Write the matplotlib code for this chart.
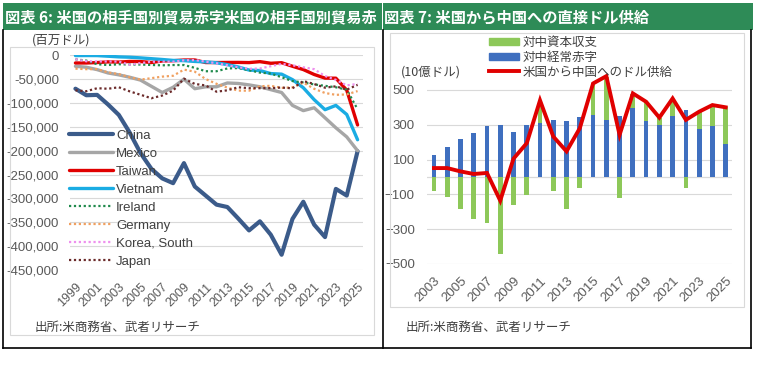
import numpy as np
import matplotlib
matplotlib.use("Agg")
import matplotlib.pyplot as plt
from matplotlib.patches import Rectangle, Patch
from matplotlib.lines import Line2D
from matplotlib.ticker import FuncFormatter

plt.rcParams['font.family'] = ['Liberation Sans', 'Noto Sans CJK JP']

# ---- left chart: US trade deficit by partner (million USD) ----
years = list(range(1999, 2026))
china = [-70000, -83700, -83000, -103000, -125000, -162000, -205000, -238000, -258000,
         -268000, -226000, -275000, -294000, -313000, -318000, -342000, -367000, -348000,
         -376000, -418000, -343000, -307000, -355000, -381000, -280000, -294000, -201000]
mexico = [-23000, -25000, -30000, -37000, -41000, -46000, -52000, -65000, -78000,
          -67000, -50000, -70000, -66000, -66000, -58000, -59000, -62000, -66000,
          -72000, -78000, -105000, -116000, -110000, -131000, -152000, -171000, -200000]
taiwan = [-16100, -16100, -15200, -13800, -14200, -12900, -13100, -15100, -11900,
          -11400, -9900, -9800, -15200, -15200, -15000, -14900, -15300, -13300,
          -16700, -15500, -23000, -29900, -40200, -47800, -48000, -73000, -146000]
vietnam = [-600, -500, -600, -1900, -3300, -4000, -5400, -7100, -8800,
           -10700, -11200, -12900, -13800, -15600, -19600, -24400, -30900, -32000,
           -38300, -39500, -51000, -68000, -93000, -114000, -105000, -124000, -177000]
ireland = [-8400, -11100, -18700, -20400, -18800, -19300, -19400, -20300, -21000,
           -20400, -20400, -26300, -33400, -33400, -27600, -26800, -31300, -36300,
           -38100, -46000, -54000, -57000, -61000, -64000, -67000, -72000, -113000]
germany = [-28000, -29100, -29000, -35900, -39400, -46000, -51000, -47900, -44700,
           -42900, -30000, -34300, -49800, -59700, -67700, -74000, -74200, -64900,
           -63900, -68300, -67200, -57300, -70200, -79000, -82900, -82000, -75000]
korea = [-8200, -12500, -13000, -13000, -13200, -19800, -16300, -13600, -13200,
         -13300, -10600, -10000, -13200, -16600, -20700, -25100, -28300, -27700,
         -22900, -17900, -20900, -25100, -29100, -43400, -51400, -63000, -60000]
japan = [-73400, -75300, -69000, -70100, -67000, -75600, -82700, -90000, -84300,
         -74100, -49000, -60000, -63200, -76300, -73400, -67000, -68900, -68900,
         -68800, -67600, -69200, -54000, -60200, -67900, -65000, -72000, -62000]
left_names = ["China", "Mexico", "Taiwan", "Vietnam", "Ireland", "Germany", "Korea, South", "Japan"]

# ---- right chart: direct dollar supply from US to China (billion USD) ----
years2 = list(range(2003, 2026))
current_deficit = [124, 170, 217, 255, 290, 301, 261, 301, 312, 328, 324, 343,
                   356, 328, 352, 398, 324, 299, 349, 387, 274, 290, 192]
capital_balance = [-80, -118, -186, -243, -264, -442, -163, -102, 125, -80, -186, -63,
                   181, 247, -119, 80, 105, 38, 96, -66, 97, 120, 210]
dollar_supply = [51, 51, 32, 17, 23, -136, 105, 194, 440, 232, 147, 280,
                 537, 579, 242, 480, 432, 341, 451, 328, 375, 413, 400]
right_names = ["対中資本収支", "対中経常赤字", "米国から中国へのドル供給"]

W, H = 768, 367
GREEN_HDR = '#2E8B57'
TICK_C = '#595959'
GRID_C = '#D9D9D9'
JP = 'Noto Sans CJK JP'


def box(x0, y0, x1, y1):
    return [x0 / W, 1 - y1 / H, (x1 - x0) / W, (y1 - y0) / H]


def fline(x0, y0, x1, y1, **kw):
    fig.add_artist(Line2D([x0 / W, x1 / W], [1 - y0 / H, 1 - y1 / H], **kw))


fig = plt.figure(figsize=(W / 100, H / 100), dpi=100, facecolor='white')

# header bars
for (x0, x1, title) in [(3, 382, "図表 6: 米国の相手国別貿易赤字米国の相手国別貿易赤"),
                        (383, 753, "図表 7: 米国から中国への直接ドル供給")]:
    hx = fig.add_axes(box(x0, 3, x1, 30))
    hx.set_facecolor(GREEN_HDR)
    hx.set_xticks([])
    hx.set_yticks([])
    for s in hx.spines.values():
        s.set_visible(False)
    hx.text(0.004, 0.48, title, transform=hx.transAxes, color='white', fontsize=11,
            fontweight='bold', family=JP, va='center', ha='left', clip_on=True)

# chart area frames
fig.add_artist(Rectangle((10 / W, 1 - 335 / H), 364 / W, 288 / H, transform=fig.transFigure,
                         fill=False, ec=GRID_C, lw=0.8))
fig.add_artist(Rectangle((390 / W, 1 - 307 / H), 354 / W, 274 / H, transform=fig.transFigure,
                         fill=False, ec=GRID_C, lw=0.8))

# black borders
for xx in (3, 382.5, 751):
    fline(xx, 30, xx, 348, color='black', lw=1.2)
fline(3, 348, 751, 348, color='black', lw=1.2)

# ---------------- left chart ----------------
ax1 = fig.add_axes(box(70, 55.3, 363, 270))
x = np.arange(len(years))
styles = [
    (china, '#3B5B8A', 3.0, '-'),
    (mexico, '#A6A6A6', 2.4, '-'),
    (taiwan, '#E00000', 2.4, '-'),
    (vietnam, '#1AACE3', 2.4, '-'),
    (ireland, '#1F8A4C', 1.6, (0, (1, 1.2))),
    (germany, '#F0A060', 1.6, (0, (1, 1.2))),
    (korea, '#EE90EE', 1.6, (0, (1, 1.2))),
    (japan, '#6B2A2A', 1.6, (0, (1, 1.2))),
]
for i, (vals, c, lw, ls) in enumerate(styles):
    ax1.plot(x, vals, color=c, lw=lw, ls=ls, label=left_names[i], zorder=3 + i,
             solid_capstyle='round')
ax1.set_xlim(-0.5, len(years) - 0.5)
ax1.set_ylim(-450000, 0)
ax1.set_yticks(np.arange(-450000, 1, 50000))
ax1.yaxis.set_major_formatter(FuncFormatter(lambda v, p: f"{v:,.0f}"))
ax1.set_xticks(x[::2])
ax1.set_xticklabels([str(y) for y in years[::2]], rotation=45, ha='right',
                    rotation_mode='anchor')
ax1.tick_params(axis='both', length=0, colors=TICK_C, labelsize=9.5)
ax1.tick_params(axis='y', pad=8)
ax1.tick_params(axis='x', pad=8, labelsize=9)
ax1.grid(axis='y', color=GRID_C, lw=0.8)
ax1.set_axisbelow(True)
for s in ax1.spines.values():
    s.set_visible(False)
leg1 = ax1.legend(loc='upper left', bbox_to_anchor=(-0.005, 0.655), frameon=False,
                  fontsize=9.5, handlelength=3.4, handletextpad=0.2, labelspacing=0.44,
                  borderpad=0, borderaxespad=0)
for t in leg1.get_texts():
    t.set_color('#404040')

fig.text(32 / W, 1 - 40.5 / H, "(百万ドル)", fontsize=9, color='#404040', family=JP,
         va='center', ha='left')
fig.text(35 / W, 1 - 327 / H, "出所:米商務省、武者リサーチ", fontsize=9, color='#404040',
         family=JP, va='center', ha='left')

# ---------------- right chart ----------------
ax2 = fig.add_axes(box(427.3, 72.5, 732.3, 264))
x2 = np.arange(len(years2))
blue = np.array(current_deficit)
green = np.array(capital_balance)
ax2.bar(x2, blue, width=0.36, color='#3F6FBF', zorder=2)
ax2.bar(x2, green, width=0.36, bottom=np.where(green > 0, blue, 0), color='#8DC859', zorder=2)
ax2.plot(x2, dollar_supply, color='#E00000', lw=2.8, zorder=4, solid_joinstyle='miter')
ax2.axhline(0, color=GRID_C, lw=0.9, zorder=1)
ax2.set_xlim(-0.5, len(years2) - 0.5)
ax2.set_ylim(-500, 600)
ax2.set_yticks(np.arange(-500, 501, 200))
ax2.set_xticks(x2[::2])
ax2.set_xticklabels([str(y) for y in years2[::2]], rotation=45, ha='right',
                    rotation_mode='anchor')
ax2.tick_params(axis='both', length=0, colors=TICK_C, labelsize=9.5)
ax2.tick_params(axis='y', pad=9)
ax2.tick_params(axis='x', pad=8)
ax2.grid(axis='y', color=GRID_C, lw=0.8)
ax2.set_axisbelow(True)
for s in ax2.spines.values():
    s.set_visible(False)

handles = [Patch(color='#8DC859'), Patch(color='#3F6FBF'), Line2D([], [], color='#E00000', lw=2.8)]
leg2 = fig.legend(handles, right_names, loc='upper left',
                  bbox_to_anchor=(489 / W, 1 - 36 / H), frameon=False,
                  prop={'family': JP, 'size': 9}, handlelength=2.4, handleheight=0.55,
                  handletextpad=0.3, labelspacing=0.14, borderpad=0, borderaxespad=0)
for t in leg2.get_texts():
    t.set_color('#404040')

fig.text(401 / W, 1 - 72 / H, "(10億ドル)", fontsize=9, color='#404040', family=JP,
         va='center', ha='left')
fig.text(406 / W, 1 - 327 / H, "出所:米商務省、武者リサーチ", fontsize=9, color='#404040',
         family=JP, va='center', ha='left')

fig.savefig('out.png', dpi=100, facecolor='white')
